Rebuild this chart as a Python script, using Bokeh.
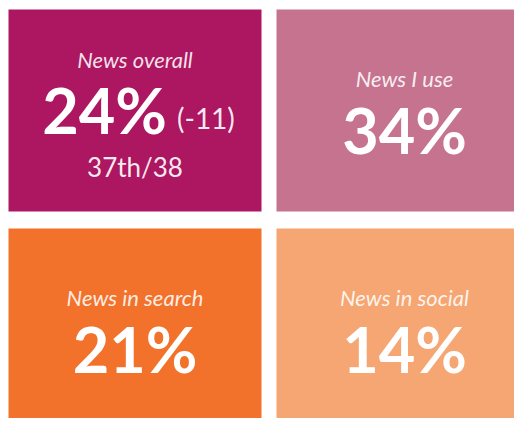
from bokeh.plotting import figure
from bokeh.models import Range1d, ColumnDataSource
from bokeh.core.properties import value
from bokeh.embed import file_html
from bokeh.resources import INLINE

# ---- data ----
labels = ["News overall", "News I use", "News in search", "News in social"]
values = [24, 34, 21, 14]
overall_change = -11
overall_rank = "37th/38"
colors = ["#ad1660", "#c6738f", "#f2722c", "#f5a672"]

# ---- layout (picture pixel coordinates) ----
W, H = 514, 418
p = figure(width=W, height=H, output_backend="svg", toolbar_location=None,
           x_range=Range1d(0, W), y_range=Range1d(H, 0),
           min_border=0, outline_line_color=None, background_fill_color="white",
           border_fill_color="white")
p.axis.visible = False
p.grid.visible = False

col_left = [8, 276]
col_right = [261, 532]
row_top = [9, 228]
row_bottom = [211, 440]

lefts, rights, tops, bottoms, cx, label_y, value_y, val_txt = [], [], [], [], [], [], [], []
for i in range(4):
    r, c = divmod(i, 2)
    lefts.append(col_left[c]); rights.append(col_right[c])
    tops.append(row_top[r]); bottoms.append(row_bottom[r])
    cx.append((col_left[c] + col_right[c]) / 2)
    if i == 0:
        label_y.append(row_top[r] + 50)
        value_y.append(row_top[r] + 100)
    else:
        label_y.append(row_top[r] + 69)
        value_y.append(row_top[r] + 120)
    val_txt.append(f"{values[i]}%")

src = ColumnDataSource(dict(left=lefts, right=rights, top=tops, bottom=bottoms,
                            color=colors, cx=cx, ly=label_y, vy=value_y,
                            label=labels, val=val_txt))
p.quad(left="left", right="right", top="top", bottom="bottom", fill_color="color",
       line_color=None, source=src)

# labels
p.text(x="cx", y="ly", text="label", source=src, text_align="center",
       text_baseline="alphabetic", text_color="white", text_alpha=0.88,
       text_font=value("Lato"), text_font_style="italic", text_font_size="22px")

# values for tiles 2-4 (centered)
sub = ColumnDataSource(dict(cx=cx[1:], vy=value_y[1:], val=val_txt[1:]))
p.text(x="cx", y="vy", text="val", source=sub, text_align="center",
       text_baseline="alphabetic", text_color="white",
       text_font=value("Lato"), text_font_style="bold", text_font_size="63px")

# overall tile: value + change + rank
p.text(x=[cx[0] + 32], y=[value_y[0]], text=[val_txt[0]], text_align="right",
       text_baseline="alphabetic", text_color="white",
       text_font=value("Lato"), text_font_style="bold", text_font_size="63px")
p.text(x=[cx[0] + 42], y=[value_y[0] + 8], text=[f"({overall_change})"], text_align="left",
       text_baseline="alphabetic", text_color="white", text_alpha=0.92,
       text_font=value("Lato"), text_font_size="28px")
p.text(x=[cx[0]], y=[value_y[0] + 57], text=[overall_rank], text_align="center",
       text_baseline="alphabetic", text_color="white", text_alpha=0.92,
       text_font=value("Lato"), text_font_size="26px")

open("out.html", "w").write(file_html(p, INLINE))
